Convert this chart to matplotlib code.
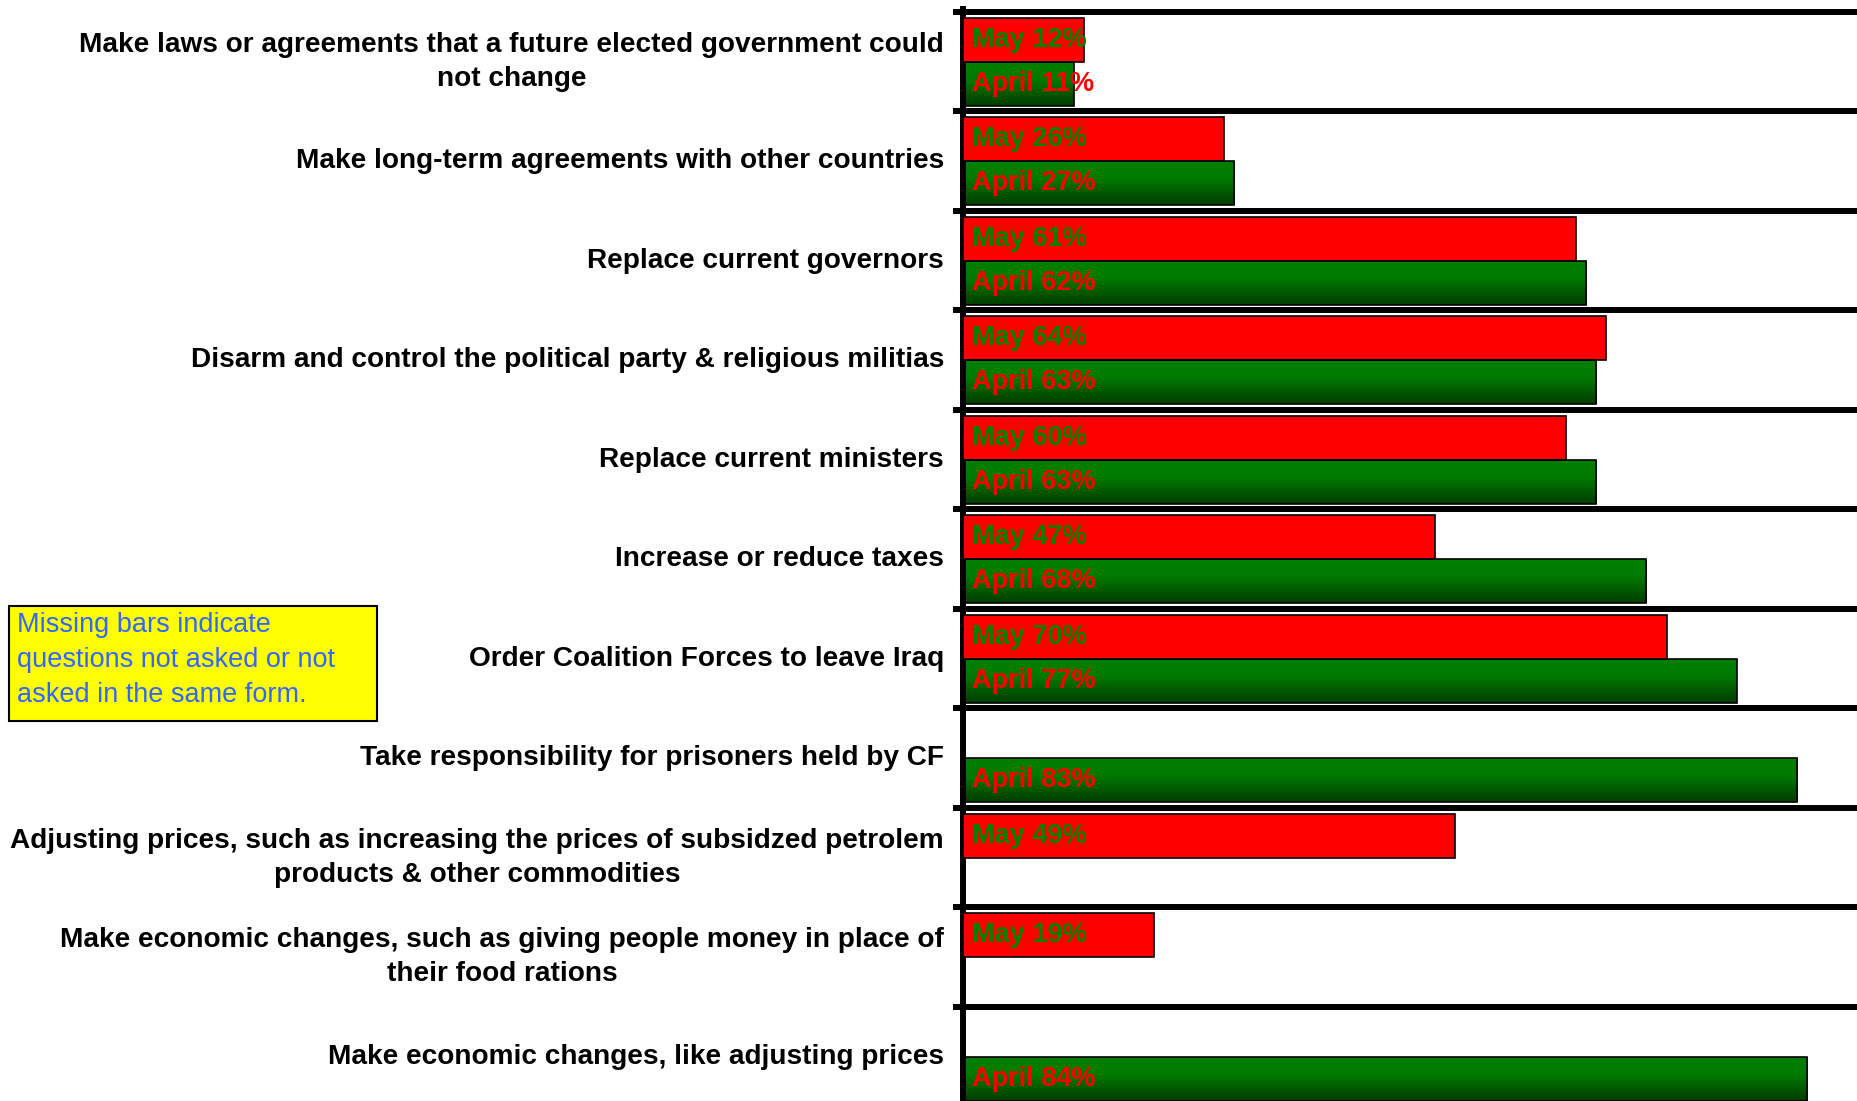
import numpy as np
import matplotlib
matplotlib.use('Agg')
import matplotlib.pyplot as plt
from matplotlib.colors import LinearSegmentedColormap
from matplotlib.patches import Rectangle

plt.rcParams['font.family'] = ['Liberation Sans', 'DejaVu Sans']

# Dados do gráfico (None = pergunta não feita)
categorias = [
    'Make laws or agreements that a future elected government could\nnot change',
    'Make long-term agreements with other countries',
    'Replace current governors',
    'Disarm and control the political party & religious militias',
    'Replace current ministers',
    'Increase or reduce taxes',
    'Order Coalition Forces to leave Iraq',
    'Take responsibility for prisoners held by CF',
    'Adjusting prices, such as increasing the prices of subsidzed petrolem\nproducts & other commodities',
    'Make economic changes, such as giving people money in place of\ntheir food rations',
    'Make economic changes, like adjusting prices',
]
maio = [12, 26, 61, 64, 60, 47, 70, None, 49, 19, None]
abril = [11, 27, 62, 63, 63, 68, 77, 83, None, None, 84]
nota = 'Missing bars indicate\nquestions not asked or not\nasked in the same form.'

W, H = 1858, 1101
fig = plt.figure(figsize=(W / 100, H / 100), dpi=100)
ax = fig.add_axes([963 / W, 0, 1 - 963 / W, 1 - 9 / H])

# Degradê verde das barras de abril
cmap_verde = LinearSegmentedColormap.from_list(
    'verde', [(0, '#008000'), (0.4, '#007a00'), (1, '#003c00')])
grad = np.linspace(0, 1, 100).reshape(-1, 1)

alt = 0.44
for i, v in enumerate(maio):
    if v is None:
        continue
    y0 = i + 0.06
    ax.barh(y0 + alt / 2, v, height=alt, color='#ff0000', edgecolor='black', linewidth=1.2, zorder=3)
    ax.text(0.9, y0 + alt / 2, f'May {v}%', color='#008000', fontsize=19.5,
            fontweight='bold', va='center', ha='left', zorder=5)

for i, v in enumerate(abril):
    if v is None:
        continue
    y0 = i + 0.5
    ax.imshow(grad, extent=(0, v, y0 + alt, y0), origin='upper', aspect='auto',
              cmap=cmap_verde, zorder=2, interpolation='bilinear')
    ax.barh(y0 + alt / 2, v, height=alt, fill=False, edgecolor='black', linewidth=1.2, zorder=3)
    ax.text(0.9, y0 + alt / 2, f'April {v}%', color='#ff0000', fontsize=19.5,
            fontweight='bold', va='center', ha='left', zorder=5)

# Rótulos das categorias
for i, cat in enumerate(categorias):
    ax.text(-1.9, i + 0.5, cat, ha='right', va='center', multialignment='center',
            fontsize=20.2, fontweight='bold', linespacing=1.4)

# Eixos e linhas de grade
ax.set_xlim(0, (W - 963) / 10.05)
ax.set_ylim(10.945, -0.03)
ax.set_yticks(range(11))
ax.set_yticklabels([])
ax.set_xticks([])
ax.tick_params(axis='y', length=7, width=4.3, direction='out', color='black')
ax.grid(axis='y', color='black', linewidth=4.3)
ax.set_axisbelow(True)
for lado in ['top', 'right', 'bottom']:
    ax.spines[lado].set_visible(False)
ax.spines['left'].set_linewidth(4.3)

# Caixa de nota amarela
fig.patches.append(Rectangle((9 / W, 1 - 721 / H), 368 / W, 115 / H, transform=fig.transFigure,
                             facecolor='#ffff00', edgecolor='black', linewidth=1.5))
fig.text(17 / W, 1 - 660 / H, nota, color='#3366ff', fontsize=19.5, ha='left', va='center',
         linespacing=1.45)

plt.savefig('out.png', dpi=100)
